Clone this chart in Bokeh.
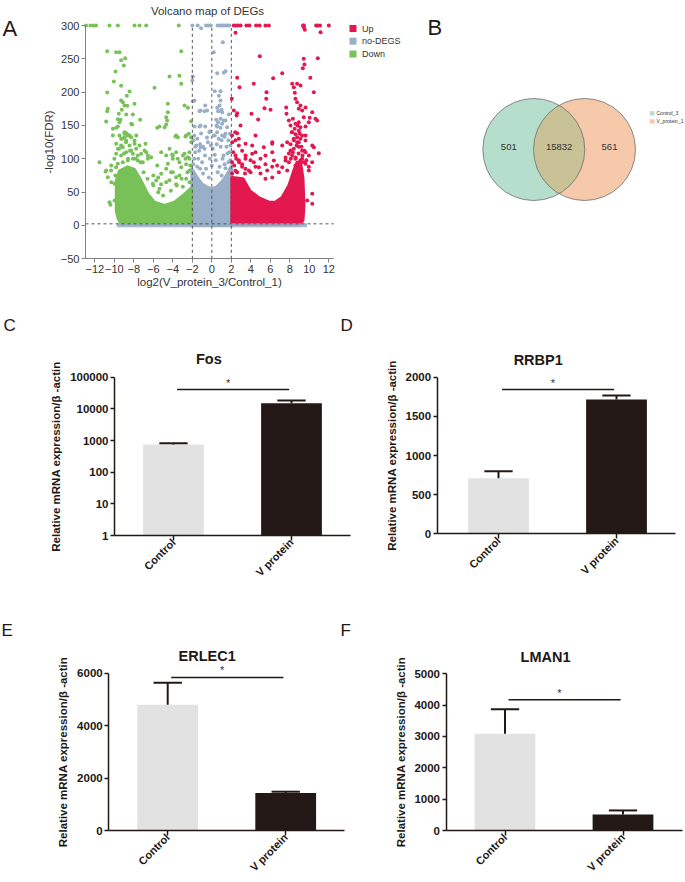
import numpy as np
from math import pi, log10
from bokeh.plotting import figure
from bokeh.layouts import row, column
from bokeh.models import Range1d, FixedTicker, Label, NumeralTickFormatter
from bokeh.core.properties import value
from bokeh.embed import file_html
from bokeh.resources import INLINE

FONT = "Liberation Sans"
DARK = "#231815"
UP_C, NO_C, DOWN_C = "#e2184f", "#98afc7", "#78c159"

# ---------------- Volcano data ----------------
volcano_x_ticks = [-12, -10, -8, -6, -4, -2, 0, 2, 4, 6, 8, 10, 12]
volcano_y_ticks = [-50, 0, 50, 100, 150, 200, 250, 300]
fc_cutoffs = [-2, 0, 2]
fdr_cutoff = 2.5
legend_labels = ["Up", "no-DEGS", "Down"]

down_points = [
    (-12.9, 300), (-12.45, 300), (-12.15, 300), (-11.88, 300), (-10.5, 300), (-9.64, 300),
    (-7.93, 300), (-7.42, 300), (-6.73, 300), (-3.39, 300),
    (-10.73, 261.5), (-9.81, 260), (-9.47, 260), (-8.89, 251), (-9.3, 248), (-9.03, 240),
    (-9.88, 231), (-3.14, 261.5), (-10.05, 216), (-9.3, 209.5), (-4.34, 223.5), (-3.32, 224.5),
    (-3.14, 212.5), (-5.88, 206.5), (-10.73, 199.5), (-8.44, 201), (-8.72, 194.5), (-9.3, 187.5),
    (-9.13, 185), (-8.96, 180), (-7.93, 182.5), (-4.51, 182.5), (-2.8, 180), (-2.46, 176.5),
    (-8.68, 179.5), (-10.67, 175), (-10.73, 171.5), (-9.23, 173.5), (-9.54, 167.5), (-9.64, 159.5),
    (-8.78, 166.5), (-8.1, 166.5), (-4.51, 170), (-4.68, 162.5), (-10.84, 156), (-9.37, 158.5),
    (-9.47, 155), (-8.27, 152.5), (-8.17, 151.5), (-7.35, 158.5), (-5.6, 146.5), (-5.37, 148.5),
    (-4.85, 147.5), (-4.58, 157.5), (-4.68, 151.5), (-2.12, 156.5), (-10.15, 145), (-9.81, 146.5),
    (-9.64, 148.5), (-8.78, 138.5), (-8.44, 135), (-7.75, 135), (-10.15, 135), (-9.47, 135),
    (-8.96, 132.5), (-3.66, 135), (-3.49, 132.5), (-2.63, 135), (-2.12, 132.5),
    (-11.52, 95), (-10.83, 82.5), (-10.32, 90), (-9.81, 87.5), (-10.5, 35), (-9.98, 37.5),
    (-9.64, 47.5), (-8.96, 137.5), (-8.62, 135), (-9.3, 120), (-9.81, 122.5), (-7.93, 122.5),
    (-8.1, 107.5), (-7.59, 105), (-6.9, 112.5), (-6.56, 105), (-6.22, 102.5),
    (-4.0, 105), (-3.49, 100), (-2.8, 107.5), (-2.46, 102.5), (-4.51, 92.5), (-3.14, 87.5),
    (-4.17, 80), (-5.19, 77.5), (-5.71, 67.5), (-6.05, 62.5), (-2.29, 82.5), (-3.66, 72.5),
    (-4.68, 65), (-5.37, 55), (-10.9, 81), (-10.4, 31), (-6.8, 122.5), (-4.07, 106.5),
    (-3.73, 133.5), (-2.7, 133.5), (-2.36, 137.5),
    (-9.2, 130), (-8.8, 125), (-9.5, 115), (-8.4, 112), (-9.0, 108), (-8.6, 100), (-10.0, 100),
    (-7.8, 100), (-7.3, 95), (-9.9, 75), (-10.3, 65), (-7.0, 80), (-6.6, 70), (-6.0, 60),
    (-5.5, 50), (-5.0, 45), (-4.2, 52), (-3.6, 60), (-3.1, 70), (-2.5, 80), (-2.2, 90),
    (-2.7, 100), (-2.3, 110), (-2.1, 125),
    (-8.96, 140), (-8.68, 136.5), (-9.3, 130), (-8.79, 127.5), (-8.27, 132.5), (-7.93, 127.5),
    (-8.44, 120), (-9.13, 117.5), (-9.64, 115), (-9.81, 107.5), (-9.3, 105), (-8.79, 110),
    (-8.27, 112.5), (-7.76, 115), (-7.42, 120), (-7.25, 107.5), (-6.73, 110), (-6.56, 100),
    (-7.08, 95), (-7.59, 97.5), (-8.1, 100), (-8.62, 97.5), (-9.13, 95), (-9.64, 92.5),
    (-10.33, 82.5), (-10.67, 72.5), (-9.98, 62.5),
    (-5.2, 110), (-4.68, 105), (-4.34, 115), (-4.0, 100), (-3.66, 110), (-3.32, 95),
    (-2.97, 105), (-2.63, 92), (-2.29, 100), (-4.68, 85), (-4.0, 80), (-3.32, 75), (-2.63, 70),
    (-2.29, 65), (-3.66, 62), (-5.2, 62), (-5.5, 72), (-4.34, 68), (-2.97, 58), (-6.0, 75),
    (-5.6, 90),
]
nodeg_points = [
    (-2.0, 300), (-1.45, 300), (-1.1, 296), (-0.6, 300), (-0.35, 300), (-0.1, 300), (0.6, 300),
    (0.8, 300), (1.0, 300), (1.2, 300), (1.4, 300), (1.6, 300), (1.8, 300),
    (1.13, 275), (0.2, 260), (1.4, 231.5), (1.23, 229), (0.55, 228.5), (-1.95, 223.5),
    (-2.0, 217.5), (0.3, 201.5), (0.89, 201.5), (0.72, 194.5), (-1.95, 186.5), (-1.78, 187.5),
    (0.89, 187.5), (0.79, 180), (0.55, 176.5), (0.99, 173.5), (0.65, 171.5), (1.06, 170),
    (-0.68, 180), (-1.16, 172.5), (-0.75, 171.5), (-1.26, 171.5), (-0.48, 172.5), (1.74, 166.5),
    (0.45, 158.5), (0.65, 155), (1.06, 152.5), (1.4, 157.5), (0.55, 148.5), (0.89, 146.5),
    (-1.78, 148.5), (-1.26, 148.5), (-0.68, 148.5), (-0.24, 140), (-1.16, 150), (0.48, 150),
    (1.23, 157.5), (0.9, 160), (-0.2, 141.5), (0.55, 140), (1.06, 135), (1.57, 147.5),
    (1.85, 137.5), (0.3, 135), (1.4, 137.5), (-1.16, 117.5), (-0.75, 115),
    (-1.6, 120), (-1.3, 112), (-0.9, 118), (-0.4, 125), (0.1, 115), (0.5, 122), (1.0, 128),
    (1.5, 118), (1.8, 110), (-1.8, 100), (-1.0, 95), (-0.2, 100), (0.4, 98), (1.2, 105),
    (1.7, 95), (-1.5, 88), (-0.6, 85), (0.8, 88), (1.4, 86), (-1.9, 128), (1.9, 120), (-1.7, 110),
    (-1.8, 135), (-1.5, 130), (-1.1, 138), (-0.5, 132), (0.2, 135), (0.7, 130), (1.3, 133),
    (1.7, 128), (-1.7, 118), (-1.2, 122), (-0.1, 120), (0.9, 118), (1.6, 108), (-1.4, 100),
    (-0.7, 105), (0.3, 106), (1.1, 100), (1.9, 98), (-1.9, 92), (-1.2, 85), (0.0, 90),
    (0.6, 80), (1.3, 92), (1.9, 85), (-0.9, 78), (-0.3, 72), (1.0, 75),
]
up_points = [
    (2.25, 300), (2.5, 300), (2.7, 300), (2.95, 300), (3.55, 300), (3.85, 300), (4.55, 300),
    (4.9, 300), (5.5, 300), (5.85, 300), (9.35, 300), (9.45, 300), (10.7, 300), (10.85, 300),
    (11.1, 300), (12.0, 300),
    (2.43, 289), (9.43, 297.5), (9.54, 293.5), (11.15, 290), (4.92, 254), (9.43, 250),
    (9.5, 241.5), (9.33, 236), (10.87, 251), (7.22, 228.5), (2.6, 221.5), (4.3, 212.5),
    (2.84, 207.5), (6.29, 221), (8.24, 212.5), (8.75, 212.5), (8.41, 207.5), (9.1, 210),
    (10.1, 221.5), (10.46, 200), (8.51, 199), (8.58, 190), (5.61, 200), (5.58, 190), (2.05, 190),
    (2.6, 168.5), (4.07, 167.5), (4.75, 159), (5.4, 176), (6.02, 173.5), (7.63, 177),
    (7.66, 167.5), (8.75, 185), (9.09, 180), (8.92, 175), (9.27, 172.5), (9.43, 162.5),
    (9.61, 177), (10.3, 170), (10.63, 160), (10.8, 157.5), (7.9, 157.5), (8.31, 160),
    (8.58, 152.5), (8.92, 155), (8.07, 150), (9.09, 147.5), (9.61, 148.5), (9.95, 155),
    (10.04, 161.5), (2.26, 172.5), (2.54, 165), (2.94, 150), (4.48, 135), (5.33, 117.5),
    (6.2, 110), (6.2, 125), (10.46, 117.5), (10.97, 108.5), (9.78, 37.5), (10.3, 32.5), (9.1, 10),
    (2.77, 130), (2.6, 138.5), (3.46, 105), (4.14, 107.5), (4.31, 95), (4.82, 87.5),
    (3.8, 82.5), (5.5, 105), (6.36, 97.5), (6.7, 90), (5.68, 82.5), (7.22, 87.5), (7.56, 97.5),
    (7.73, 82.5), (3.46, 122.5), (4.14, 120), (6.19, 122.5), (7.22, 120), (7.73, 125),
    (8.07, 112.5), (8.92, 125), (9.61, 127.5), (10.3, 120), (8.75, 132.5), (9.61, 135),
    (9.27, 100), (9.61, 92.5), (9.95, 82.5), (10.3, 47.5), (9.27, 25),
    (8.2, 140), (8.5, 145), (8.8, 150), (9.0, 138), (8.4, 130), (8.7, 120), (9.2, 118),
    (8.3, 110), (8.9, 108), (9.3, 105), (8.6, 102), (8.1, 100), (9.5, 112), (9.7, 98),
    (2.2, 110), (2.5, 100), (2.8, 95), (2.3, 90), (3.1, 88), (2.6, 80), (3.4, 78), (2.1, 125),
    (2.4, 140),
    (8.24, 140), (8.58, 137), (8.92, 142), (9.26, 135), (8.41, 128), (8.75, 125), (9.09, 130),
    (8.07, 122), (8.41, 115), (8.92, 118), (9.26, 112), (9.61, 110), (7.9, 108), (8.24, 105),
    (8.58, 100), (9.09, 98), (9.43, 95), (7.56, 102), (7.9, 95), (8.58, 90), (9.95, 105),
    (10.29, 95), (9.95, 88),
    (2.08, 135), (2.43, 128), (2.77, 120), (3.11, 112), (2.43, 105), (3.45, 100), (2.77, 98),
    (2.08, 95), (3.11, 92), (3.97, 98), (4.48, 110), (4.99, 100), (5.5, 92), (6.19, 88),
    (4.48, 88), (3.45, 85), (2.43, 82), (3.97, 80), (4.99, 78), (5.5, 70), (6.87, 80),
    (6.19, 72), (2.08, 78),
]
# dense (fully overlapping) regions of the point clouds
down_core_x = [-9.8, -9.8, -9.47, -8.62, -7.93, -7.25, -6.56, -5.88, -4.85, -3.83, -2.8, -2.05, -2.05, -9.3, -9.6]
down_core_y = [22, 67, 82, 88, 84, 67, 47, 35, 30, 35, 47, 57, 2, 2, 10]
up_core_x = [2.05, 2.05, 3.2, 3.9, 4.8, 5.85, 6.5, 7.2, 7.9, 8.4, 8.75, 9.1, 9.35, 9.45, 9.35, 9.0]
up_core_y = [2, 72, 70, 52, 42, 35, 35, 42, 60, 82, 95, 95, 70, 30, 8, 2]
nodeg_core_x = [-2.05, -2.05, -1.5, -1.0, -0.5, 0, 0.5, 1.0, 1.5, 2.05, 2.05]
nodeg_core_y = [0, 85, 72, 62, 58, 55, 58, 65, 75, 90, 0]
floor_x = [-9.7, 9.7, 9.7, -9.7]
floor_y = [-2, -2, 2.5, 2.5]

# ---------------- Venn data ----------------
venn_sets = ["Control_3", "V_protein_1"]
venn_counts = [501, 15832, 561]
venn_colors = ["#b5dfcc", "#f6c9ab"]
venn_lens_color = "#c9c296"

# ---------------- qPCR data ----------------
groups = ["Control", "V protein"]
genes = ["Fos", "RRBP1", "ERLEC1", "LMAN1"]
fos_mean, fos_err = [745, 15000], [75, 3300]
rrbp1_mean, rrbp1_err = [710, 1715], [90, 50]
erlec1_mean, erlec1_err = [4800, 1430], [840, 50]
lman1_mean, lman1_err = [3090, 510], [780, 130]
sig_heights = [40700, 1842, 5835, 4170]
bar_colors = ["#e2e2e2", DARK]
y_label = "Relative mRNA expression/\u03b2 -actin"


def lab(p, text, X, Y, X0, Y1, size, style="normal", align="left", color=DARK):
    """Text label at page position (X, Y); the frame fills the figure (left X0, bottom Y1)."""
    p.add_layout(Label(x=X - X0, y=Y1 - Y, x_units="screen", y_units="screen", text=text,
                       text_font=FONT, text_font_size=f"{size}px", text_font_style=style,
                       text_align=align, text_baseline="alphabetic", text_color=color))


def bare_figure(W, H, xr, yr, **kw):
    p = figure(width=W, height=H, x_range=Range1d(*xr), y_range=Range1d(*yr),
               output_backend="svg", toolbar_location=None, min_border=0,
               min_border_left=0, min_border_right=0, min_border_top=0, min_border_bottom=0, **kw)
    p.grid.visible = False
    p.outline_line_color = None
    return p


# ---------------- Panel A: volcano ----------------
WA, HA = 415, 300
px_per_x = 9.75           # pixels per log2 unit
px_per_y = 233.33 / 350   # pixels per -log10 unit
x_at_left = -12 - 94.33 / px_per_x
y_at_top = 300 + 25 / px_per_y
pA = bare_figure(WA, HA, (x_at_left, x_at_left + WA / px_per_x), (y_at_top - HA / px_per_y, y_at_top))
y_axis_x, x_axis_y, x_axis_end = -12.96, -50, 12.5

pA.patch(nodeg_core_x, nodeg_core_y, fill_color=NO_C, line_color=NO_C, line_width=3, line_join="round")
pA.patch(down_core_x, down_core_y, fill_color=DOWN_C, line_color=DOWN_C, line_width=3, line_join="round")
pA.patch(up_core_x, up_core_y, fill_color=UP_C, line_color=UP_C, line_width=3, line_join="round")
pA.patch(floor_x, floor_y, fill_color=NO_C, line_color=NO_C, fill_alpha=0.85, line_alpha=0.85, line_width=1)
for pts, col in [(nodeg_points, NO_C), (down_points, DOWN_C), (up_points, UP_C)]:
    xs, ys = zip(*pts)
    pA.scatter(list(xs), list(ys), size=4, fill_color=col, line_color=None)

pA.segment(x0=fc_cutoffs, y0=[x_axis_y] * 3, x1=fc_cutoffs, y1=[300] * 3,
           line_color="#555555", line_dash="3 3", line_width=1)
pA.segment(x0=[y_axis_x], y0=[fdr_cutoff], x1=[x_axis_end], y1=[fdr_cutoff],
           line_color="#555555", line_dash="3 3", line_width=1)

xa, ya = pA.xaxis[0], pA.yaxis[0]
xa.fixed_location = x_axis_y
ya.fixed_location = y_axis_x
xa.bounds = (y_axis_x, x_axis_end)
ya.bounds = (-50, 300)
xa.ticker = FixedTicker(ticks=volcano_x_ticks)
ya.ticker = FixedTicker(ticks=volcano_y_ticks)
xa.axis_label = "log2(V_protein_3/Control_1)"
ya.axis_label = "-log10(FDR)"
for ax in (xa, ya):
    ax.axis_line_color = "#808080"
    ax.major_tick_line_color = "#808080"
    ax.minor_tick_line_color = None
    ax.major_tick_in = 0
    ax.major_tick_out = 4
    ax.major_label_text_font = FONT
    ax.major_label_text_font_size = "11px"
    ax.major_label_text_color = "#333333"
    ax.major_label_standoff = 2
    ax.axis_label_text_font = FONT
    ax.axis_label_text_font_size = "11.5px"
    ax.axis_label_text_font_style = "normal"
    ax.axis_label_text_color = "#333333"
xa.axis_label_standoff = 0
ya.axis_label_standoff = 3

# legend (page positions converted to data coordinates of this panel)
leg_page_x, leg_page_y = 352.5, [28.0, 40.8, 53.5]
leg_x = x_at_left + leg_page_x / px_per_x
leg_y = [y_at_top - yy / px_per_y for yy in leg_page_y]
pA.scatter([leg_x] * 3, leg_y, marker="square", size=7, fill_color=[UP_C, NO_C, DOWN_C], line_color=None)
pA.text([x_at_left + 361.5 / px_per_x] * 3, leg_y, text=legend_labels, text_baseline="middle",
        text_font=value(FONT), text_font_size="9px", text_color="#333333")

lab(pA, "Volcano map of DEGs", 207, 10, 0, HA, 11.5, color="#333333", align="center")
lab(pA, "A", 2, 28, 0, HA, 22)

# ---------------- Panel B: Venn ----------------
WB, HB = 270, 300
pB = bare_figure(WB, HB, (0, WB), (0, HB), x_axis_location=None, y_axis_location=None)
cx, cy, r = [118.3, 169.0], 151.0, 51.0
pB.circle(x=cx, y=[cy, cy], radius=r, fill_color=venn_colors, line_color=None)
d = cx[1] - cx[0]
th = np.arccos(d / 2 / r)
t1 = np.linspace(-th, th, 80)
t2 = np.linspace(pi - th, pi + th, 80)
lens_x = np.concatenate([cx[0] + r * np.cos(t1), cx[1] + r * np.cos(t2)])
lens_y = np.concatenate([cy + r * np.sin(t1), cy + r * np.sin(t2)])
pB.patch(lens_x, lens_y, fill_color=venn_lens_color, line_color=None)
pB.circle(x=cx, y=[cy, cy], radius=r, fill_color=None, line_color="#6e6e6e", line_width=0.8)
pB.text(x=[cx[0] - 25, (cx[0] + cx[1]) / 2, cx[1] + 25], y=[cy + 2.3] * 3,
        text=[str(c) for c in venn_counts], text_align="center", text_baseline="middle",
        text_font=value(FONT), text_font_size="9.5px", text_color="#333333")
pB.rect(x=[236.7, 236.7], y=[187.1, 179.1], width=4.7, height=4.2, fill_color=venn_colors, line_color=None)
pB.text(x=[241, 241], y=[187.1, 179.1], text=venn_sets, text_baseline="middle",
        text_font=value(FONT), text_font_size="5px", text_color="#333333")
lab(pB, "B", 427, 27, 415, HB, 22)


# ---------------- Panels C-F: bar charts ----------------
PX_PER_BAR_UNIT = 118.0


def bar_panel(X0, Y0, W, H, bar0, axis_x, zero_pg, top_pg, top_val, log, title, means, errs,
              yticks, sig_y, title_xy, star_xy, letters, xfont):
    Y1 = Y0 + H
    xr = ((X0 - bar0) / PX_PER_BAR_UNIT, (X0 + W - bar0) / PX_PER_BAR_UNIT)
    if log:
        dpp = log10(top_val) / (zero_pg - top_pg)
        yr = (10 ** (-(Y1 - zero_pg) * dpp), 10 ** ((zero_pg - Y0) * dpp))
        base = 1
    else:
        upp = top_val / (zero_pg - top_pg)
        yr = (-(Y1 - zero_pg) * upp, (zero_pg - Y0) * upp)
        base = 0
    p = bare_figure(W, H, xr, yr, y_axis_type="log" if log else "linear")
    xs = [0.5, 1.5]
    p.vbar(x=xs, top=means, bottom=base, width=0.515, fill_color=bar_colors, line_color=None)
    tops = [m + e for m, e in zip(means, errs)]
    p.segment(x0=xs, y0=means, x1=xs, y1=tops, line_color=DARK, line_width=2)
    p.segment(x0=[x - 0.12 for x in xs], y0=tops, x1=[x + 0.12 for x in xs], y1=tops,
              line_color=DARK, line_width=2)
    p.segment(x0=[0.53], y0=[sig_y], x1=[1.48], y1=[sig_y], line_color=DARK, line_width=1.5)

    xa, ya = p.xaxis[0], p.yaxis[0]
    xa.fixed_location = base
    ya.fixed_location = axis_x
    xa.bounds = (axis_x, 2.0)
    ya.bounds = (base, top_val)
    xa.ticker = FixedTicker(ticks=xs)
    xa.major_label_overrides = {0.5: groups[0], 1.5: groups[1]}
    xa.major_label_orientation = pi / 4
    ya.ticker = FixedTicker(ticks=yticks)
    if log:
        ya.formatter = NumeralTickFormatter(format="0")
    ya.axis_label = y_label
    for ax in (xa, ya):
        ax.axis_line_color = DARK
        ax.axis_line_width = 1.5
        ax.major_tick_line_color = DARK
        ax.major_tick_line_width = 1.5
        ax.minor_tick_line_color = None
        ax.major_tick_in = 0
        ax.major_label_text_font = FONT
        ax.major_label_text_font_style = "bold"
        ax.major_label_text_color = DARK
        ax.axis_label_text_font = FONT
        ax.axis_label_text_font_size = "11.5px"
        ax.axis_label_text_font_style = "bold"
        ax.axis_label_text_color = DARK
    ya.major_tick_out = 4
    ya.major_label_standoff = 2
    ya.major_label_text_font_size = "11.5px"
    ya.axis_label_standoff = 5
    xa.major_tick_out = 5
    xa.major_label_standoff = 0
    xa.major_label_text_font_size = xfont

    lab(p, title, title_xy[0], title_xy[1], X0, Y1, 14.5, style="bold", align="center")
    lab(p, "*", star_xy[0], star_xy[1], X0, Y1, 11, align="center", color="#333333")
    for t, lx, ly in letters:
        lab(p, t, lx, ly, X0, Y1, 17)
    return p


pC = bar_panel(0, 300, 358, 300, 114.0, 0.0, 535.0, 376.7, 100000, True, genes[0], fos_mean, fos_err,
               [1, 10, 100, 1000, 10000, 100000], sig_heights[0], (208.3, 358.3), (227.7, 382),
               [("C", 3, 325), ("D", 340, 325)], "11px")
pD = bar_panel(358, 300, 327, 300, 439.0, -0.02, 533.3, 376.7, 2000, False, genes[1], rrbp1_mean, rrbp1_err,
               [0, 500, 1000, 1500, 2000], sig_heights[1], (537.7, 359.3), (552.3, 382), [], "11px")
pE = bar_panel(0, 600, 356, 278, 108.2, 0.0, 830.0, 672.7, 6000, False, genes[2], erlec1_mean, erlec1_err,
               [0, 2000, 4000, 6000], sig_heights[2], (206.7, 655), (221.7, 669),
               [("E", 1, 630), ("F", 340, 630)], "11px")
pF = bar_panel(356, 600, 329, 278, 445.5, 0.0, 830.0, 673.3, 5000, False, genes[3], lman1_mean, lman1_err,
               [0, 1000, 2000, 3000, 4000, 5000], sig_heights[3], (545, 656.7), (559, 692), [], "11px")

layout = column(row(pA, pB), row(pC, pD), row(pE, pF))
open("out.html", "w").write(file_html(layout, INLINE))
